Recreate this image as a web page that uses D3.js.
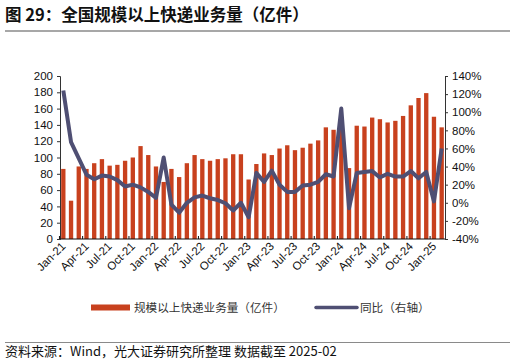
<!DOCTYPE html>
<html>
<head>
<meta charset="utf-8">
<script src="https://cdn.jsdelivr.net/npm/d3@7"></script>
<style>
  body { margin: 0; background: #fff; }
  svg { display: block; }
</style>
</head>
<body>
<div id="chart"></div>
<script>
// 月份（类目）
var months = [
  "Jan-21","Feb-21","Mar-21","Apr-21","May-21","Jun-21","Jul-21","Aug-21","Sep-21","Oct-21","Nov-21","Dec-21",
  "Jan-22","Feb-22","Mar-22","Apr-22","May-22","Jun-22","Jul-22","Aug-22","Sep-22","Oct-22","Nov-22","Dec-22",
  "Jan-23","Feb-23","Mar-23","Apr-23","May-23","Jun-23","Jul-23","Aug-23","Sep-23","Oct-23","Nov-23","Dec-23",
  "Jan-24","Feb-24","Mar-24","Apr-24","May-24","Jun-24","Jul-24","Aug-24","Sep-24","Oct-24","Nov-24","Dec-24",
  "Jan-25","Feb-25"
];
// 规模以上快递业务量（亿件）
var volume = [
  86, 47, 89, 86, 93, 98, 90, 91, 96, 100, 114, 103,
  89, 70, 86, 76, 93, 103, 98, 96, 98, 99, 104, 104,
  73, 92, 105, 103, 111, 115, 109, 112, 117, 121, 137, 134,
  136, 87, 139, 138, 149, 147, 143, 145, 151, 164, 173, 179,
  150, 137
];
// 同比（%）
var yoy = [
  124, 67, 49, 31, 26, 30, 29, 25, 18, 20, 17, 12,
  5.5, 50, -2, -11, 0, 6, 8, 5, 3, -0.5, -8.5, 0,
  -16, 33, 23, 35.5, 20, 12, 12, 19, 20, 23, 31.5, 29,
  104, -6, 33, 34, 35, 28, 32, 29, 29, 35, 27, 34,
  1.5, 60
];
var leftTicks = [0, 20, 40, 60, 80, 100, 120, 140, 160, 180, 200];
var rightTicks = [-40, -20, 0, 20, 40, 60, 80, 100, 120, 140];

var width = 516, height = 363;
var margin = { top: 76, right: 71, bottom: 124, left: 60 };
var barColor = "#C8411E", lineColor = "#4F4F73";
var cjk = "'Noto Sans CJK SC', sans-serif";
var latin = "'Liberation Sans', Arial, sans-serif";

var data = months.map((m, i) => ({ key: m, value: volume[i], yoy: yoy[i] }));

var svg = d3.select("#chart").append("svg")
    .attr("width", width)
    .attr("height", height);

// 标题
svg.append("text")
    .attr("x", 5).attr("y", 21)
    .style("font-family", cjk)
    .style("font-size", "16.5px")
    .style("font-weight", "bold")
    .style("fill", "#111")
    .text("图 29：全国规模以上快递业务量（亿件）");

svg.append("line")
    .attr("x1", 5).attr("x2", 510)
    .attr("y1", 31).attr("y2", 31)
    .style("stroke", "#8a8a8a").style("stroke-width", 1.5);

var x = d3.scaleBand()
    .domain(months)
    .range([margin.left, width - margin.right])
    .paddingInner(0.44)
    .paddingOuter(0.15);

var y = d3.scaleLinear()
    .domain([0, 200])
    .range([height - margin.bottom, margin.top]);

var y2 = d3.scaleLinear()
    .domain([-40, 140])
    .range([height - margin.bottom, margin.top]);

// 柱
svg.append("g")
    .attr("fill", barColor)
    .selectAll("rect")
    .data(data)
    .enter()
    .append("rect")
    .attr("x", d => x(d.key))
    .attr("y", d => y(d.value))
    .attr("width", x.bandwidth())
    .attr("height", d => y(0) - y(d.value));

// 同比折线
var line = d3.line()
    .x(d => x(d.key) + x.bandwidth() / 2)
    .y(d => y2(d.yoy));

svg.append("path")
    .datum(data)
    .attr("d", line)
    .style("fill", "none")
    .style("stroke", lineColor)
    .style("stroke-width", 4)
    .style("stroke-linejoin", "round");

// 坐标轴
var yAxis = g => g
    .attr("transform", `translate(${margin.left},0)`)
    .call(d3.axisLeft(y).tickValues(leftTicks).tickSize(3).tickPadding(4))
    .call(g => g.selectAll("text").style("font-family", latin).style("font-size", "11.5px").style("fill", "#111"))
    .call(g => g.selectAll("line, path").style("stroke", "#333"));

var y2Axis = g => g
    .attr("transform", `translate(${width - margin.right},0)`)
    .call(d3.axisRight(y2).tickValues(rightTicks).tickSize(3).tickPadding(4).tickFormat(d => d + "%"))
    .call(g => g.selectAll("text").style("font-family", latin).style("font-size", "11.5px").style("fill", "#111"))
    .call(g => g.selectAll("line, path").style("stroke", "#333"));

svg.append("g").call(yAxis);
svg.append("g").call(y2Axis);

var xAxisG = svg.append("g")
    .attr("transform", `translate(0,${height - margin.bottom})`);

xAxisG.append("line")
    .attr("x1", margin.left).attr("x2", width - margin.right)
    .style("stroke", "#111").style("stroke-width", 1.2);

var labelMonths = months.filter((m, i) => i % 3 === 0);

xAxisG.selectAll(".tk")
    .data(labelMonths)
    .enter()
    .append("line")
    .attr("class", "tk")
    .attr("x1", d => x(d) - x.step() * x.paddingInner() / 2)
    .attr("x2", d => x(d) - x.step() * x.paddingInner() / 2)
    .attr("y1", 0).attr("y2", -3)
    .style("stroke", "#111");

xAxisG.selectAll(".lbl")
    .data(labelMonths)
    .enter()
    .append("text")
    .attr("class", "lbl")
    .attr("transform", d => `translate(${x(d) + x.bandwidth() / 2 + 3},8) rotate(-45)`)
    .style("text-anchor", "end")
    .style("font-family", latin)
    .style("font-size", "11.5px")
    .style("fill", "#111")
    .text(d => d);

// 图例
var legend = svg.append("g");
legend.append("rect")
    .attr("x", 91).attr("y", 304.5)
    .attr("width", 39).attr("height", 6)
    .style("fill", barColor);
legend.append("text")
    .attr("x", 134).attr("y", 312)
    .style("font-family", cjk).style("font-size", "11.6px").style("fill", "#333")
    .text("规模以上快递业务量（亿件）");
legend.append("line")
    .attr("x1", 316).attr("x2", 357)
    .attr("y1", 307.5).attr("y2", 307.5)
    .style("stroke", lineColor).style("stroke-width", 3.5)
    .style("stroke-linecap", "round");
legend.append("text")
    .attr("x", 360).attr("y", 312)
    .style("font-family", cjk).style("font-size", "11.6px").style("fill", "#333")
    .text("同比（右轴）");

// 资料来源
svg.append("line")
    .attr("x1", 5).attr("x2", 510)
    .attr("y1", 342.5).attr("y2", 342.5)
    .style("stroke", "#8a8a8a").style("stroke-width", 1.2);

svg.append("text")
    .attr("x", 5).attr("y", 356)
    .style("font-family", cjk)
    .style("font-size", "13px")
    .style("fill", "#111")
    .text("资料来源：Wind，光大证券研究所整理 数据截至 2025-02");
</script>
</body>
</html>
